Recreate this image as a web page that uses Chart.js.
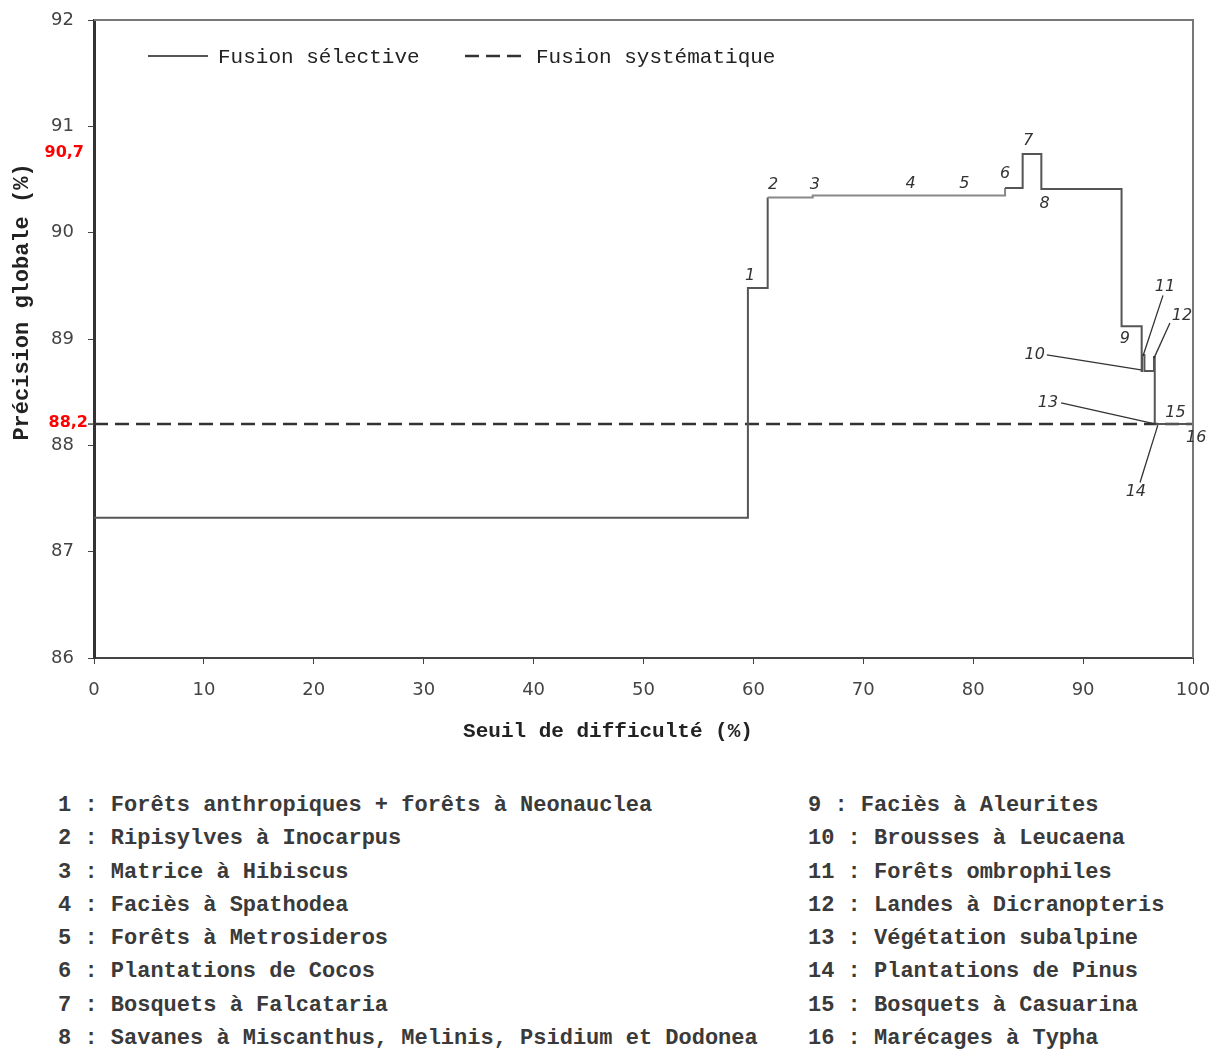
<!DOCTYPE html>
<html>
<head>
<meta charset="utf-8">
<title>Précision globale</title>
<script src="https://cdn.jsdelivr.net/npm/chart.js@4.4.0/dist/chart.umd.min.js"></script>
<style>
    body { margin: 0; background: #fff; width: 1215px; height: 1051px; overflow: hidden; position: relative; }
    #wrap { position: absolute; left: 0; top: 0; width: 1215px; height: 760px; }
    .list { position: absolute; top: 789px; font-family: 'Liberation Mono', 'Courier New', monospace;
            font-size: 22px; font-weight: bold; line-height: 33.3px; color: #3a3a3a; white-space: pre; }
</style>
</head>
<body>
<div id="wrap"><canvas id="chart"></canvas></div>
<div class="list" id="list-left" style="left:58px"></div>
<div class="list" id="list-right" style="left:808px"></div>

<script>
// Seuil de difficulté (%) where the selective curve changes level
const seuil = [0, 59.5, 61.3, 65.4, 82.9, 84.5, 86.2, 93.5, 95.33, 95.36, 95.58, 96.45, 96.52, 100];
// Précision globale (%) - fusion sélective
const precisionSelective = [87.32, 89.48, 90.33, 90.35, 90.42, 90.74, 90.41, 89.12, 88.70, 88.85, 88.70, 88.83, 88.20, 88.20];
// Précision globale (%) - fusion systématique
const precisionSystematique = 88.2;
const seuilRange = [0, 100];

const yMin = 86, yMax = 92;
const xMin = 0, xMax = 100;
const highlighted = ['90,7', '88,2'];
const highlightedValues = [90.7, 88.2];

// class numbers placed on the curve (data coordinates)
const classNums = ['1','2','3','4','5','6','7','8','9','10','11','12','13','14','15','16'];
const classX = [59.7, 61.8, 65.6, 74.3, 79.2, 82.9, 85.0, 86.5, 93.8, 85.6, 97.45, 99.0, 86.8, 94.8, 98.4, 100.3];
const classY = [89.59, 90.45, 90.45, 90.46, 90.46, 90.55, 90.86, 90.27, 89.0, 88.85, 89.49, 89.22, 88.40, 87.56, 88.31, 88.07];
// leader lines: [class index, fromX, fromY, toX, toY]
const leaders = [
    [10, 86.7, 88.85, 95.27, 88.71],
    [11, 97.27, 89.41, 95.45, 88.84],
    [12, 97.9, 89.15, 96.45, 88.82],
    [13, 88.0, 88.40, 96.63, 88.20],
    [14, 95.18, 87.65, 96.8, 88.19]
];

const classNames = [
    'Forêts anthropiques + forêts à Neonauclea',
    'Ripisylves à Inocarpus',
    'Matrice à Hibiscus',
    'Faciès à Spathodea',
    'Forêts à Metrosideros',
    'Plantations de Cocos',
    'Bosquets à Falcataria',
    'Savanes à Miscanthus, Melinis, Psidium et Dodonea',
    'Faciès à Aleurites',
    'Brousses à Leucaena',
    'Forêts ombrophiles',
    'Landes à Dicranopteris',
    'Végétation subalpine',
    'Plantations de Pinus',
    'Bosquets à Casuarina',
    'Marécages à Typha'
];

document.getElementById('list-left').textContent =
    classNames.slice(0, 8).map((n, i) => `${i + 1} : ${n}`).join('\n');
document.getElementById('list-right').textContent =
    classNames.slice(8).map((n, i) => `${i + 9} : ${n}`).join('\n');

const mono = "'Liberation Mono', 'Courier New', monospace";

// extra drawing: frame, legend, titles, red values, class numbers
const decorPlugin = {
    id: 'decor',
    afterDraw(chart) {
        const ctx = chart.ctx;
        const x = chart.scales.x, y = chart.scales.y;
        const area = chart.chartArea;
        ctx.save();

        // top and right frame
        ctx.strokeStyle = '#777';
        ctx.lineWidth = 2;
        ctx.beginPath();
        ctx.moveTo(area.left, area.top);
        ctx.lineTo(area.right, area.top);
        ctx.lineTo(area.right, area.bottom);
        ctx.stroke();

        // legend
        ctx.font = `21px ${mono}`;
        ctx.fillStyle = '#222';
        ctx.textBaseline = 'middle';
        ctx.textAlign = 'left';
        ctx.strokeStyle = '#555';
        ctx.lineWidth = 2;
        ctx.beginPath();
        ctx.moveTo(148, 56); ctx.lineTo(208, 56);
        ctx.stroke();
        ctx.fillText('Fusion sélective', 218, 57);
        ctx.strokeStyle = '#333';
        ctx.lineWidth = 2.5;
        ctx.setLineDash([14, 7]);
        ctx.beginPath();
        ctx.moveTo(465, 56); ctx.lineTo(522, 56);
        ctx.stroke();
        ctx.setLineDash([]);
        ctx.fillText('Fusion systématique', 536, 57);

        // axis titles
        ctx.font = `bold 21px ${mono}`;
        ctx.textAlign = 'center';
        ctx.fillText('Seuil de difficulté (%)', 608, 732);
        ctx.save();
        ctx.translate(22, 302);
        ctx.rotate(-Math.PI / 2);
        ctx.font = `bold 22px ${mono}`;
        ctx.fillText('Précision globale (%)', 0, 0);
        ctx.restore();

        // red highlighted values on the y axis
        ctx.font = "bold 16px 'DejaVu Sans', sans-serif";
        ctx.fillStyle = '#ff0000';
        ctx.textAlign = 'right';
        ctx.fillText(highlighted[0], 84, y.getPixelForValue(highlightedValues[0]) - 5);
        ctx.fillText(highlighted[1], 88, y.getPixelForValue(highlightedValues[1]) - 1);
        ctx.strokeStyle = '#444';
        ctx.lineWidth = 1.5;
        ctx.beginPath();
        ctx.moveTo(area.left - 6, y.getPixelForValue(highlightedValues[1]));
        ctx.lineTo(area.left, y.getPixelForValue(highlightedValues[1]));
        ctx.stroke();

        // leader lines
        ctx.strokeStyle = '#333';
        ctx.lineWidth = 1.3;
        leaders.forEach(l => {
            ctx.beginPath();
            ctx.moveTo(x.getPixelForValue(l[1]), y.getPixelForValue(l[2]));
            ctx.lineTo(x.getPixelForValue(l[3]), y.getPixelForValue(l[4]));
            ctx.stroke();
        });

        // class numbers
        ctx.font = "italic 16px 'DejaVu Sans', sans-serif";
        ctx.fillStyle = '#333';
        ctx.textAlign = 'center';
        classNums.forEach((n, i) => {
            ctx.fillText(n, x.getPixelForValue(classX[i]), y.getPixelForValue(classY[i]));
        });

        ctx.restore();
    }
};

const tickFont = { family: "'DejaVu Sans', sans-serif", size: 18 };

new Chart(document.getElementById('chart'), {
    type: 'line',
    data: {
        datasets: [{
            label: 'Fusion sélective',
            data: seuil.map((s, i) => ({ x: s, y: precisionSelective[i] })),
            borderColor: '#555',
            borderWidth: 2,
            stepped: true,
            pointRadius: 0,
            fill: false,
            segment: {
                borderColor: c => (c.p0DataIndex === 2 || c.p0DataIndex === 3) ? '#888' : undefined
            }
        }, {
            label: 'Fusion systématique',
            data: seuilRange.map(s => ({ x: s, y: precisionSystematique })),
            borderColor: '#333',
            borderWidth: 2.5,
            borderDash: [14, 7],
            pointRadius: 0,
            fill: false
        }]
    },
    options: {
        responsive: true,
        maintainAspectRatio: false,
        animation: false,
        layout: { padding: { left: 0, right: 22, top: 20, bottom: 0 } },
        plugins: {
            legend: { display: false },
            tooltip: { enabled: false }
        },
        scales: {
            x: {
                type: 'linear',
                min: xMin,
                max: xMax,
                ticks: { stepSize: 10, font: tickFont, color: '#444', padding: 16, maxRotation: 0 },
                grid: { drawOnChartArea: false, drawTicks: true, tickLength: 6, tickColor: '#444' },
                border: { color: '#444', width: 2 },
                afterFit: s => { s.height = 102; s.paddingLeft = 0; s.paddingRight = 0; }
            },
            y: {
                min: yMin,
                max: yMax,
                ticks: { stepSize: 1, font: tickFont, color: '#444', padding: 14 },
                grid: { drawOnChartArea: false, drawTicks: true, tickLength: 6, tickColor: '#444' },
                border: { color: '#333', width: 3 },
                afterFit: s => { s.width = 94; s.paddingTop = 0; s.paddingBottom = 0; }
            }
        }
    },
    plugins: [decorPlugin]
});
</script>
</body>
</html>
